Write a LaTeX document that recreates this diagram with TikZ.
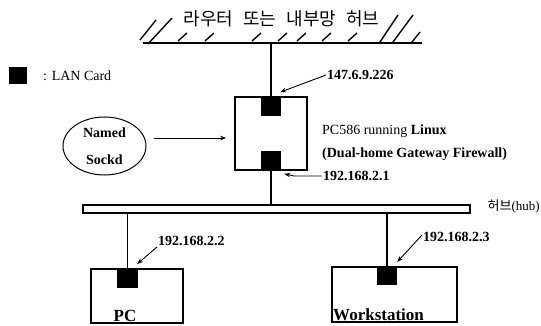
\documentclass[tikz,border=0pt]{standalone}
\usepackage{fontspec}
\setmainfont{Liberation Serif}
\newfontfamily\krfont{Noto Sans CJK KR}
\usetikzlibrary{arrows.meta,shapes.geometric}
\begin{document}
\begin{tikzpicture}[x=1pt,y=-1pt,
  ln/.style={line width=1.6pt},
  netbox/.style={draw, line width=1.7pt, fill=white, inner sep=0pt},
  card/.style={fill=black, inner sep=0pt, minimum width=20pt, minimum height=20pt},
  lbl/.style={font=\fontsize{14}{16}\selectfont\bfseries, inner sep=0pt},
  txt/.style={font=\fontsize{14}{16}\selectfont, inner sep=0pt},
  big/.style={font=\fontsize{17}{18}\selectfont\bfseries, inner sep=0pt},
  ptr/.style={line width=0.9pt, -{Stealth[length=6pt,width=4.5pt]}},
  hatch/.style={line width=1.4pt}]
\useasboundingbox (0,0) rectangle (541,326);

% router / internal network hub (hatched wall)
\node[inner sep=0pt, font=\krfont\fontsize{18}{20}\selectfont] (title) at (281.5,18.5)
  {라우터\hspace{10pt}또는\hspace{10pt}내부망\hspace{10pt}허브};
\coordinate (rl) at (143,43);
\coordinate (rr) at (422,43);
\draw[ln] (rl) -- (rr);
\foreach \a/\b/\c/\d in {140/40/156/20, 148/44/172/18, 380/42/398/15, 393/42/413/15, 412/42/420/32}
  \draw[hatch] (\a,\b) -- (\c,\d);
\foreach \x in {178,205,252,278,297,322,348}
  \draw[hatch] (\x,41) -- (\x+9,33);

% legend
\node[card, minimum width=18pt, minimum height=17pt] (legend) at (18,76) {};
\node[txt, anchor=base west] (legendtxt) at (43,81) {: LAN Card};

% gateway
\node[netbox, minimum width=72pt, minimum height=73pt] (gw) at (271,133.5) {};
\node[card, anchor=north] (gwtop) at (gw.north) {};
\node[card, anchor=south] (gwbot) at (gw.south) {};
\coordinate (rt) at (rl -| gw.north);
\draw[ln] (rt) -- (gwtop.north);

\node[txt, anchor=base west] (gwname) at (322,135) {PC586 running \textbf{Linux}};
\node[lbl, anchor=base west] (gwfw) at (322,158) {(Dual-home Gateway Firewall)};

% Named Sockd
\node[draw, ellipse, line width=1pt, minimum width=83pt, minimum height=58pt,
      inner sep=0pt, align=center, font=\fontsize{14}{27}\selectfont\bfseries]
      (sockd) at (104.5,146) {Named\\Sockd};
\draw[ptr] ([xshift=7pt,yshift=8pt]sockd.east) -- ([xshift=-8pt,yshift=-4.5pt]gw.west);

% IP labels
\node[lbl, anchor=base west] (ip1) at (327,80) {147.6.9.226};
\draw[ptr] ([shift={(-1,-5)}]ip1.base west) -- ([shift={(-1,-4)}]gwtop.north east);

\node[lbl, anchor=base west] (ip2) at (323,180) {192.168.2.1};
\draw[ptr] ([shift={(-1,-4)}]ip2.base west) -- ++(-28,0) -- ([shift={(3,3)}]gwbot.south east);

% hub
\node[netbox, line width=1.4pt, minimum width=387pt, minimum height=8pt] (hub) at (276.5,209) {};
\node[inner sep=0pt, anchor=base east, font=\fontsize{13}{15}\selectfont] (hublbl) at (540,210)
  {{\krfont 허브}(hub)};
\draw[ln] (gwbot.south) -- (gwbot.south |- hub.north);

% PC
\node[netbox, minimum width=92pt, minimum height=54pt] (pc) at (137,296) {};
\node[card, minimum width=21pt, minimum height=19pt, anchor=north] (pccard) at (127.5,269) {};
\draw[ln] (pccard.north |- hub.south) -- (pccard.north);
\node[big, anchor=base] (pclbl) at (125,321) {PC};

\node[lbl, anchor=base west] (ip3) at (158,245) {192.168.2.2};
\draw[ptr] ([shift={(-1,2)}]ip3.base west) -- ([shift={(-1,-5)}]pccard.north east);

% Workstation
\node[netbox, minimum width=125pt, minimum height=55pt] (ws) at (394.5,294.5) {};
\node[card, minimum width=20pt, minimum height=18pt, anchor=north] (wscard) at (387,267) {};
\draw[ln] (wscard.north |- hub.south) -- (wscard.north);
\node[big, anchor=base west] (wslbl) at (333,320) {Workstation};

\node[lbl, anchor=base west] (ip4) at (423,241) {192.168.2.3};
\draw[ptr] ([shift={(-1,-6)}]ip4.base west) -- ([shift={(0,-5)}]wscard.north east);
\end{tikzpicture}
\end{document}
